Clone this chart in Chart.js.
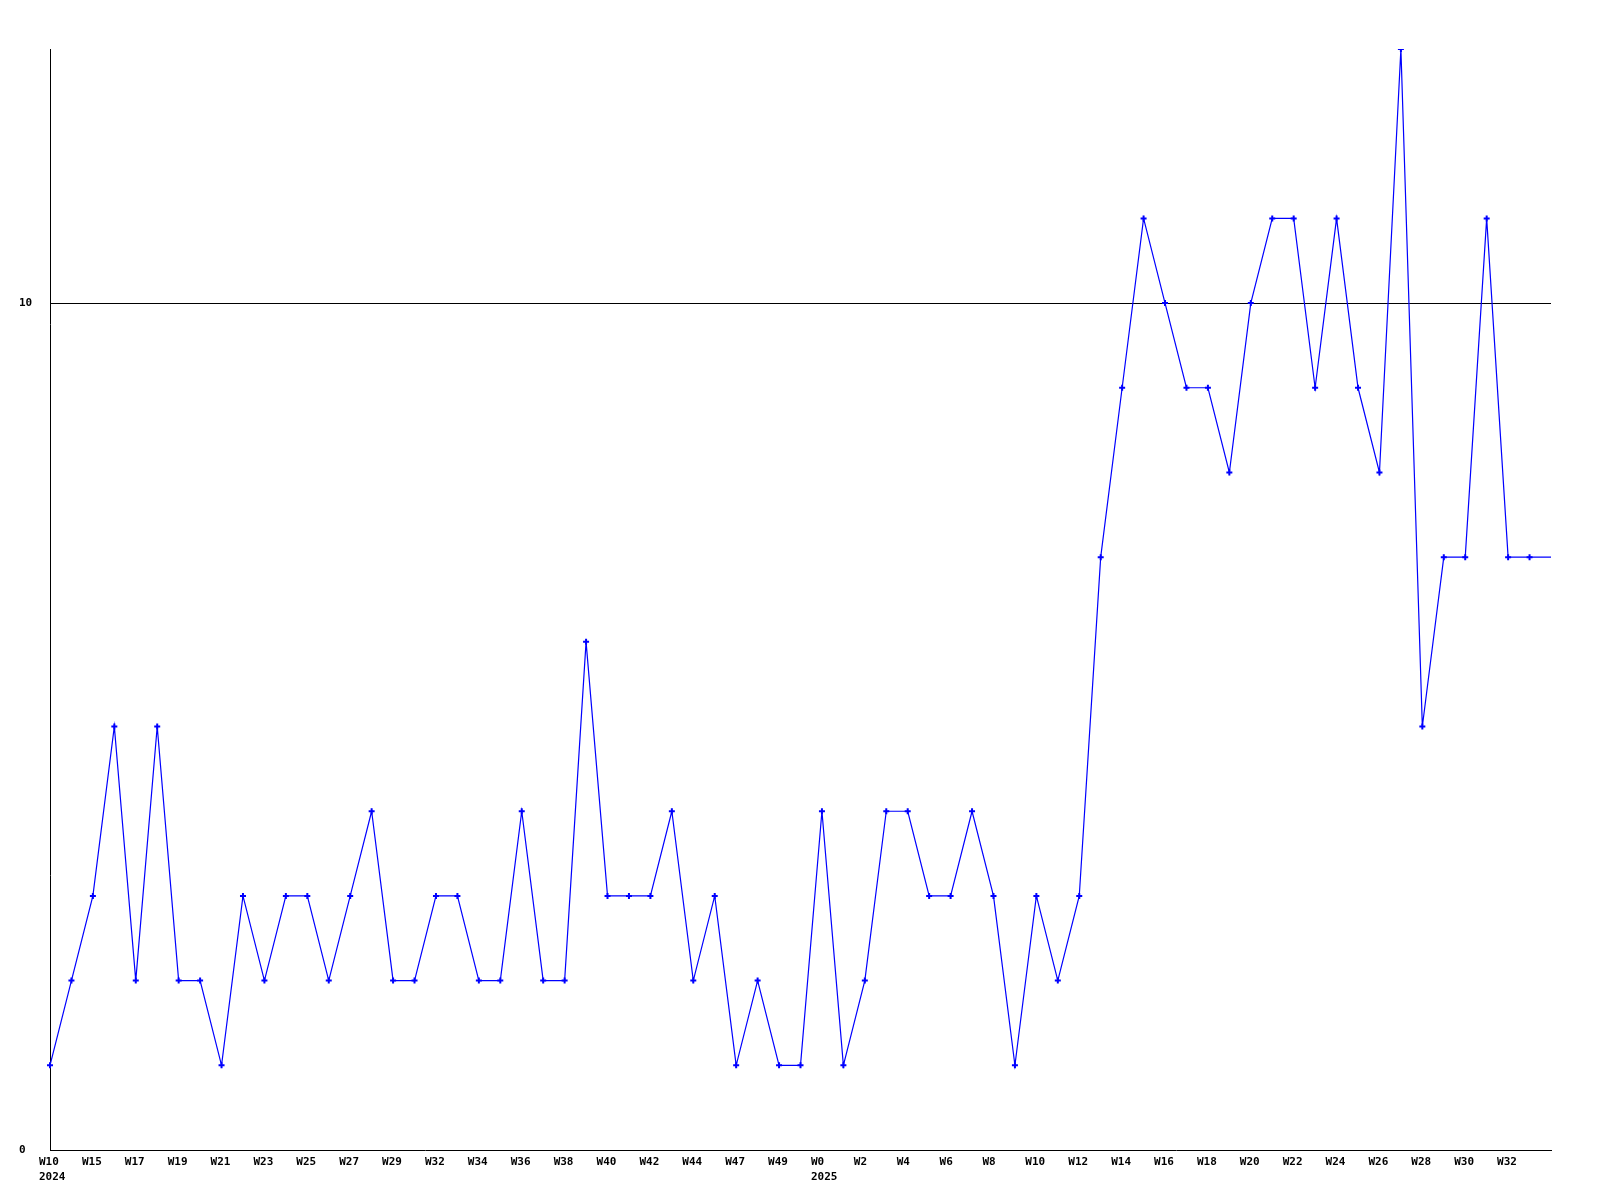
<!DOCTYPE html>
<html>
<head>
<meta charset="utf-8">
<style>
  html, body { margin: 0; padding: 0; background: #fff; }
  #wrap { width: 1600px; height: 1200px; }
</style>
<script src="https://cdn.jsdelivr.net/npm/chart.js@4/dist/chart.umd.min.js"></script>
</head>
<body>
<div id="wrap"><canvas id="myChart" width="1600" height="1200"></canvas></div>
<script>
// weekly counts, one point per week that has data
const weeks = [
    ['W10', '2024'], 'W12', 'W15', 'W16', 'W17', 'W18', 'W19', 'W20', 'W21', 'W22',
    'W23', 'W24', 'W25', 'W26', 'W27', 'W28', 'W29', 'W31', 'W32', 'W33',
    'W34', 'W35', 'W36', 'W37', 'W38', 'W39', 'W40', 'W41', 'W42', 'W43',
    'W44', 'W46', 'W47', 'W48', 'W49', 'W51', ['W0', '2025'], 'W1', 'W2', 'W3',
    'W4', 'W5', 'W6', 'W7', 'W8', 'W9', 'W10', 'W11', 'W12', 'W13',
    'W14', 'W15', 'W16', 'W17', 'W18', 'W19', 'W20', 'W21', 'W22', 'W23',
    'W24', 'W25', 'W26', 'W27', 'W28', 'W29', 'W30', 'W31', 'W32', 'W33',
    'W34'
];
const counts = [
    1, 2, 3, 5, 2, 5, 2, 2, 1, 3,
    2, 3, 3, 2, 3, 4, 2, 2, 3, 3,
    2, 2, 4, 2, 2, 6, 3, 3, 3, 4,
    2, 3, 1, 2, 1, 1, 4, 1, 2, 4,
    4, 3, 3, 4, 3, 1, 3, 2, 3, 7,
    9, 11, 10, 9, 9, 8, 10, 11, 11, 9,
    11, 9, 8, 13, 5, 7, 7, 11, 7, 7,
    7
];
const yTicks = [0, 10];

document.addEventListener('DOMContentLoaded', function() {
    const ctx = document.getElementById('myChart').getContext('2d');
    const font = { family: 'DejaVu Sans Mono', size: 11, weight: 'bold', lineHeight: 1.4 };

    new Chart(ctx, {
        type: 'line',
        data: {
            labels: weeks,
            datasets: [{
                data: counts,
                borderColor: '#0000ff',
                backgroundColor: '#0000ff',
                borderWidth: 1.2,
                tension: 0,
                pointStyle: 'cross',
                pointRadius: c => c.dataIndex === counts.length - 1 ? 0 : 3,
                pointBorderWidth: 2,
                pointBorderColor: '#0000ff'
            }]
        },
        options: {
            responsive: false,
            animation: false,
            layout: { padding: { top: 49, right: 49, left: 19, bottom: 0 } },
            plugins: {
                legend: { display: false },
                tooltip: { enabled: false }
            },
            scales: {
                x: {
                    offset: false,
                    grid: { display: true, color: 'rgba(0,0,0,0)', drawTicks: false },
                    border: { display: true, color: '#000', width: 1 },
                    ticks: {
                        autoSkip: false,
                        maxRotation: 0,
                        minRotation: 0,
                        align: 'start',
                        labelOffset: -11,
                        padding: 4,
                        color: '#000',
                        font: font,
                        callback: function(val, i) {
                            if (i % 2 !== 0 || i === counts.length - 1) return '';
                            return this.getLabelForValue(val);
                        }
                    },
                    afterFit: s => { s.height = 50; }
                },
                y: {
                    min: 0,
                    max: 13,
                    grid: {
                        drawTicks: false,
                        color: c => c.tick && c.tick.value === 10 ? '#000' : 'rgba(0,0,0,0)'
                    },
                    border: { display: true, color: '#000', width: 1 },
                    ticks: {
                        stepSize: 10,
                        crossAlign: 'far',
                        color: '#000',
                        font: font,
                        callback: v => yTicks.includes(v) ? String(v) : ''
                    },
                    afterFit: s => { s.width = 31; }
                }
            }
        }
    });
});
</script>
</body>
</html>
